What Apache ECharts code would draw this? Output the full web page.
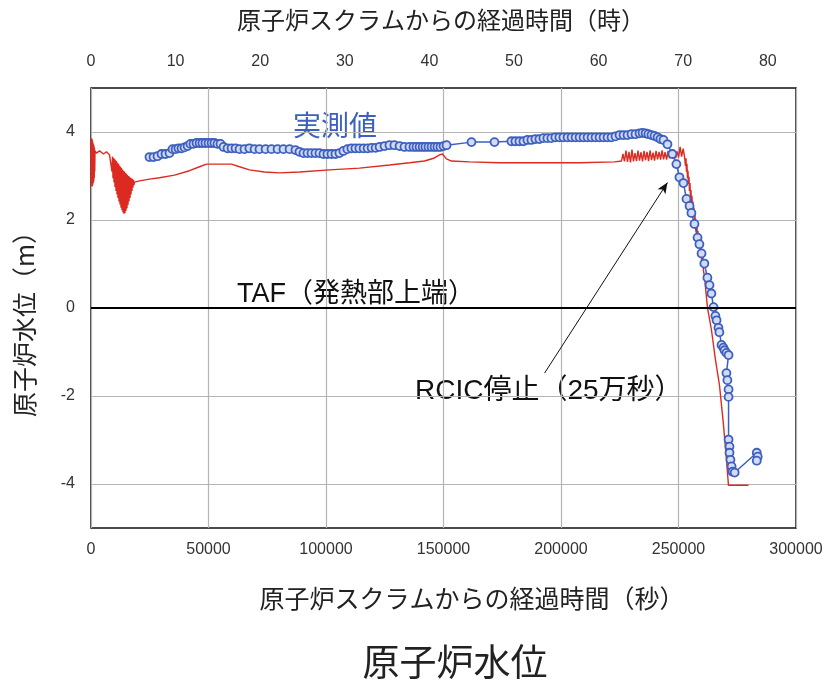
<!DOCTYPE html>
<html>
<head>
<meta charset="utf-8">
<title>原子炉水位</title>
<script src="https://cdn.jsdelivr.net/npm/echarts@6/dist/echarts.min.js"></script>
<style>
html, body { margin: 0; padding: 0; background: #fff; }
#chart { width: 834px; height: 686px; }
</style>
</head>
<body>
<div id="chart"></div>
<script>
// 解析値 (red) : 経過時間(秒) / 水位(m)
const calcTime = [
  0, 107, 213, 320, 426, 532, 638, 745, 851, 958, 1064, 1170, 1277, 1383, 1489, 1596, 1702,
  2340, 3617, 5319, 6595, 7872,
  8723, 8936, 9149, 9362, 9574, 9787, 10000, 10213, 10425, 10638, 10850, 11063, 11276,
  11489, 11701, 11914, 12127, 12340, 12552, 12765, 12978, 13191, 13403, 13616, 13829,
  14042, 14254, 14467, 14680, 14893, 15105, 15318, 15530, 15743, 15956, 16169, 16382,
  16595, 16807, 17020, 17232, 17445, 17658, 17871, 18084, 18296, 18509,
  20637, 24892, 29147, 35529, 41912, 46167, 49145, 52550, 56805, 59784, 63188, 67443,
  73825, 80208, 88718, 101483, 114249, 127014, 135524, 141906, 146161, 148289, 149566,
  151268, 153395, 161054, 173819, 190839, 207859, 222751,
  225730, 226370, 227010, 227650, 228290, 228930, 229570, 230210, 230850, 231490, 232130,
  232770, 233410, 234050, 234690, 235330, 235970, 236610, 237250, 237890, 238530, 239170,
  239810, 240450, 241090, 241730, 242370, 243010, 243650, 244290, 244930, 245570, 246210,
  246850, 247490, 248130, 248770, 249410, 250050, 250690, 251330, 251970, 252537,
  252962, 253175, 253388, 253600, 253813, 254026, 254239, 254452, 254664, 254877, 255090,
  255303, 255515, 255728, 255941, 256154, 256366, 256579, 256792, 257005, 257218, 257431,
  257643, 257856, 258068, 258281, 258494, 258707, 258919, 259132, 259345, 259558, 259770,
  259983, 260196, 260409, 260621, 261047, 262324, 264026, 265728, 267430, 269133,
  270409, 271260, 275090, 279770
];
const calcLevel = [
  3.79, 2.82, 3.86, 2.78, 3.84, 2.76, 3.80, 2.80, 3.75, 2.84, 3.72, 2.88, 3.68, 2.95, 3.63, 3.10, 3.57,
  3.52, 3.57, 3.50, 3.55, 3.48,
  3.46, 3.10, 3.44, 2.95, 3.41, 2.85, 3.39, 2.75, 3.36, 2.66, 3.34, 2.58, 3.30,
  2.50, 3.28, 2.42, 3.24, 2.35, 3.21, 2.28, 3.18, 2.22, 3.15, 2.17, 3.12,
  2.14, 3.10, 2.16, 3.07, 2.21, 3.05, 2.27, 3.02, 2.34, 3.00, 2.42, 2.98,
  2.50, 2.96, 2.58, 2.95, 2.66, 2.93, 2.74, 2.91, 2.80, 2.86,
  2.89, 2.93, 2.96, 3.02, 3.12, 3.21, 3.27, 3.27, 3.27, 3.27, 3.21, 3.14,
  3.09, 3.07, 3.09, 3.14, 3.18, 3.25, 3.30, 3.34, 3.41, 3.48, 3.50,
  3.39, 3.34, 3.32, 3.30, 3.30, 3.30, 3.32,
  3.34, 3.50, 3.33, 3.58, 3.32, 3.55, 3.31, 3.60, 3.33, 3.52, 3.34,
  3.58, 3.35, 3.54, 3.33, 3.57, 3.36, 3.55, 3.34, 3.58, 3.36, 3.53,
  3.35, 3.57, 3.38, 3.55, 3.37, 3.58, 3.38, 3.54, 3.37, 3.57, 3.40,
  3.55, 3.39, 3.58, 3.40, 3.56, 3.42, 3.66, 3.44, 3.62, 3.45,
  3.23, 3.40, 3.10, 3.28, 2.95, 3.12, 2.82, 2.98, 2.66, 2.84, 2.52,
  2.68, 2.38, 2.55, 2.25, 2.42, 2.12, 2.28, 1.98, 2.14, 1.85, 2.00,
  1.72, 1.88, 1.60, 1.75, 1.48, 1.62, 1.36, 1.50, 1.22, 1.38, 1.10,
  1.25, 0.98, 1.10, 0.85, 0.72, 0.01, -0.50, -1.18, -1.75, -2.65,
  -3.45, -4.03, -4.03, -4.03
];

// 実測値 (blue)
const measTime = [
  24890, 26600, 28300, 30000, 31700, 33400, 34700, 36000, 37200, 38500, 39800, 41100,
  42300, 43600, 44900, 46200, 47400, 48700, 50000, 51300, 52500, 53800, 55100, 56400,
  58100, 59800, 61500, 63200, 65300, 67400, 69600, 71700, 74300, 76800, 79400, 81900,
  84500, 87000, 88700, 90400, 92100, 93800, 95500, 97200, 98900, 100600, 102300, 104000,
  105700, 107400, 109100, 110800, 112500, 114200, 116000, 117700, 119400, 121100, 122800,
  124900, 127000, 129100, 131300, 133400, 135500, 137200, 138500, 139800, 141100, 142300,
  143600, 144900, 146200, 147400, 148700, 150000, 151300, 161900, 171700, 178900, 180600,
  182300, 184000, 185700, 187400, 189100, 190800, 192500, 194200, 195900, 197600, 199300,
  201000, 202800, 204500, 206200, 207900, 209600, 211300, 213000, 214700, 216400, 218100,
  219800, 221500, 223200, 224900, 226600, 228300, 230000, 231700, 233400, 234700, 236000,
  237200, 238500, 239800, 241100, 242300, 243600, 245300, 247400, 249100, 250400, 252100,
  253400, 254700, 255500, 256800, 258100, 258900, 259800, 261000, 262300, 263200, 264000,
  264900, 265700, 266200, 267000, 267400, 268300, 269100, 269600, 270400, 271300, 270400,
  270800, 271300, 271300, 271300, 271700, 271700, 272100, 272600, 273000, 273900, 283300,
  283700, 283300
];
const measLevel = [
  3.43, 3.43, 3.45, 3.50, 3.50, 3.52, 3.61, 3.61, 3.63, 3.63, 3.65, 3.68,
  3.73, 3.73, 3.75, 3.75, 3.75, 3.75, 3.75, 3.75, 3.75, 3.73, 3.73, 3.66,
  3.63, 3.63, 3.63, 3.61, 3.61, 3.63, 3.61, 3.61, 3.61, 3.61, 3.61, 3.61,
  3.61, 3.59, 3.55, 3.52, 3.52, 3.52, 3.52, 3.52, 3.50, 3.50, 3.50, 3.50,
  3.52, 3.57, 3.61, 3.63, 3.63, 3.63, 3.63, 3.63, 3.64, 3.64, 3.66,
  3.68, 3.70, 3.70, 3.68, 3.66, 3.66, 3.66, 3.66, 3.66, 3.66, 3.66,
  3.66, 3.66, 3.66, 3.66, 3.66, 3.68, 3.70, 3.77, 3.77, 3.79, 3.79,
  3.79, 3.79, 3.82, 3.82, 3.84, 3.84, 3.86, 3.86, 3.86, 3.88, 3.88,
  3.88, 3.88, 3.88, 3.88, 3.88, 3.88, 3.88, 3.88, 3.88, 3.88, 3.88,
  3.88, 3.88, 3.90, 3.93, 3.93, 3.93, 3.95, 3.95, 3.97, 3.98, 3.97,
  3.95, 3.93, 3.91, 3.88, 3.84, 3.82, 3.72, 3.50, 3.27, 2.97, 2.84,
  2.48, 2.32, 2.16, 1.91, 1.60, 1.45, 1.24, 1.01, 0.69, 0.52, 0.33,
  0.02, -0.18, -0.28, -0.45, -0.55, -0.84, -0.90, -0.96, -1.02, -1.07, -1.48,
  -1.64, -1.85, -2.02, -2.99, -3.15, -3.29, -3.45, -3.60, -3.72, -3.74, -3.29,
  -3.38, -3.47
];

const levelTicks = [-4, -2, 0, 2, 4];
const hourTicks = [0, 10, 20, 30, 40, 50, 60, 70, 80];
const rcicArrow = [[193000, -1.48], [245300, 2.85]];

const font = '"Liberation Sans", "Noto Sans CJK JP", sans-serif';
const jpFont = '"Noto Sans CJK JP", "Liberation Sans", sans-serif';
const red = '#dc2a20';
const blue = '#3c5fc0';

const chart = echarts.init(document.getElementById('chart'));

const option = {
  animation: false,
  backgroundColor: '#fff',
  grid: {
    left: 91, right: 38, top: 88, bottom: 158,
    show: true, borderColor: '#111', borderWidth: 1.5
  },
  xAxis: [
    {
      type: 'value', position: 'bottom', min: 0, max: 300000, interval: 50000,
      axisLine: { show: false },
      axisTick: { show: false },
      axisLabel: { color: '#333', fontSize: 16, fontFamily: font, margin: 14, formatter: v => String(v) },
      splitLine: { show: true, lineStyle: { color: '#b4b4b4', width: 1.2 } }
    },
    {
      type: 'value', position: 'top', min: 0, max: 300000 / 3600,
      axisLine: { show: false },
      axisTick: { show: false },
      axisLabel: { color: '#333', fontSize: 16, fontFamily: font, margin: 18, customValues: hourTicks, formatter: v => String(v) },
      splitLine: { show: false }
    }
  ],
  yAxis: {
    type: 'value', min: -5, max: 5,
    axisLine: { show: false },
    axisTick: { show: true, inside: true, length: 0, customValues: levelTicks },
    axisLabel: { color: '#333', fontSize: 16, fontFamily: font, margin: 16, customValues: levelTicks },
    splitLine: { show: true, lineStyle: { color: '#b4b4b4', width: 1.2 } }
  },
  series: [
    {
      name: '解析値', type: 'line', xAxisIndex: 0,
      data: calcTime.map((t, i) => [t, calcLevel[i]]),
      showSymbol: false, smooth: false,
      lineStyle: { color: red, width: 1.4 },
      z: 3,
      markLine: {
        silent: true, symbol: 'none', animation: false,
        label: { show: false },
        lineStyle: { color: '#000', width: 2, type: 'solid' },
        data: [{ yAxis: 0 }]
      }
    },
    {
      name: '実測値', type: 'line', xAxisIndex: 0,
      data: measTime.map((t, i) => [t, measLevel[i]]),
      symbol: 'circle', symbolSize: 8, showSymbol: true,
      lineStyle: { color: blue, width: 1.5 },
      itemStyle: { color: '#d3dbf2', borderColor: blue, borderWidth: 1.8 },
      z: 4,
      markLine: {
        silent: true, animation: false,
        symbol: ['none', 'arrow'], symbolSize: [7, 11],
        label: { show: false },
        lineStyle: { color: '#111', width: 1, type: 'solid' },
        data: [[{ coord: rcicArrow[0] }, { coord: rcicArrow[1] }]]
      }
    }
  ],
  graphic: [
    { type: 'text', x: 441, y: 20, style: { text: '原子炉スクラムからの経過時間（時）', fontSize: 24, fontFamily: jpFont, fill: '#222', align: 'center', verticalAlign: 'middle' } },
    { type: 'text', x: 472, y: 598, style: { text: '原子炉スクラムからの経過時間（秒）', fontSize: 25, fontFamily: jpFont, fill: '#222', align: 'center', verticalAlign: 'middle' } },
    { type: 'text', x: 455, y: 662, style: { text: '原子炉水位', fontSize: 37, fontFamily: jpFont, fill: '#222', align: 'center', verticalAlign: 'middle' } },
    { type: 'text', x: 24, y: 318, rotation: Math.PI / 2, style: { text: '原子炉水位（m）', fontSize: 25, fontFamily: jpFont, fill: '#222', align: 'center', verticalAlign: 'middle' } },
    { type: 'text', x: 335, y: 125, style: { text: '実測値', fontSize: 28, fontFamily: jpFont, fill: blue, align: 'center', verticalAlign: 'middle' } },
    { type: 'text', x: 237, y: 295, style: { text: 'TAF（発熱部上端）', fontSize: 27, fontFamily: font, fill: '#111', align: 'left', verticalAlign: 'middle' } },
    { type: 'text', x: 415, y: 391, style: { text: 'RCIC停止（25万秒）', fontSize: 28, fontFamily: font, fill: '#111', align: 'left', verticalAlign: 'middle' } }
  ]
};
chart.setOption(option);
</script>
</body>
</html>
